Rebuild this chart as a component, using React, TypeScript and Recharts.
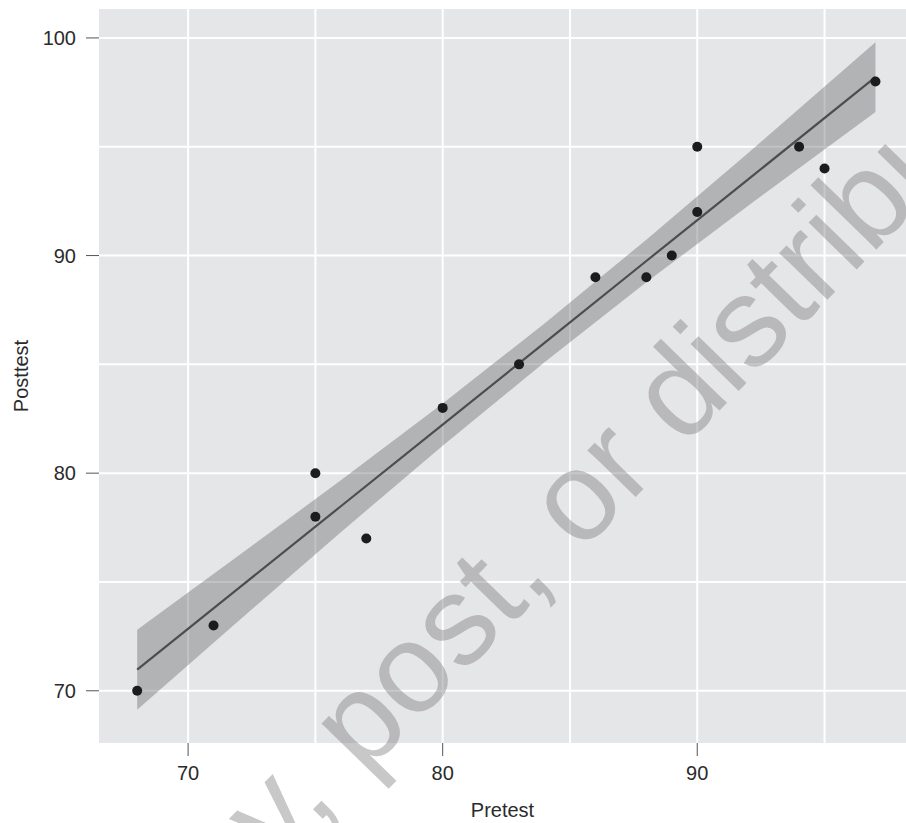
import {
  ComposedChart,
  Area,
  Line,
  Scatter,
  XAxis,
  YAxis,
  CartesianGrid,
} from 'recharts'

// observed scores
const pretest = [68, 71, 75, 75, 77, 80, 83, 86, 88, 89, 90, 90, 94, 95, 97]
const posttest = [70, 73, 80, 78, 77, 83, 85, 89, 89, 90, 95, 92, 95, 94, 98]

// fitted line + confidence band
const fitX = [68, 72, 76, 80, 84, 88, 92, 97]
const fitY = [70.97, 74.73, 78.48, 82.23, 85.99, 89.75, 93.5, 98.2]
const bandLow = [69.13, 73.23, 77.29, 81.26, 85.1, 88.77, 92.29, 96.6]
const bandHigh = [72.81, 76.23, 79.67, 83.2, 86.88, 90.73, 94.71, 99.8]

const xTicks = [70, 80, 90]
const yTicks = [70, 80, 90, 100]
const xGrid = [70, 75, 80, 85, 90, 95]
const yGrid = [70, 75, 80, 85, 90, 95, 100]

const points = pretest.map((x, i) => ({ x, y: posttest[i] }))
const fitData = fitX.map((x, i) => ({
  x,
  fit: fitY[i],
  band: [bandLow[i], bandHigh[i]],
}))

const FONT = '"Liberation Sans", Arial, Helvetica, sans-serif'
const tickStyle = { fontSize: 20, fill: '#2b2b2b', fontFamily: FONT }

function Dot(props: any) {
  return <circle cx={props.cx} cy={props.cy} r={5} fill="#1c1c1c" />
}

export default function App() {
  return (
    <div style={{ position: 'absolute', left: 0, top: 0, width: 906, height: 823, background: '#fff' }}>
      <ComposedChart
        width={906}
        height={823}
        data={fitData}
        margin={{ top: 9, right: 0, left: 0, bottom: 0 }}
      >
        <CartesianGrid
          fill="#E5E6E8"
          fillOpacity={1}
          stroke="#ffffff"
          strokeWidth={2}
          verticalValues={xGrid}
          horizontalValues={yGrid}
        />
        <XAxis
          dataKey="x"
          type="number"
          domain={[66.5, 98.2]}
          allowDataOverflow
          ticks={xTicks}
          tick={tickStyle}
          tickSize={13}
          tickMargin={10}
          tickLine={{ stroke: '#555' }}
          axisLine={false}
          height={80}
          label={{
            value: 'Pretest',
            position: 'insideBottom',
            offset: 6,
            style: { fontSize: 20, fill: '#2b2b2b', fontFamily: FONT },
          }}
        />
        <YAxis
          type="number"
          domain={[67.6, 101.33]}
          allowDataOverflow
          ticks={yTicks}
          tick={tickStyle}
          tickSize={13}
          tickMargin={10}
          tickLine={{ stroke: '#555' }}
          axisLine={false}
          width={99}
          label={{
            value: 'Posttest',
            angle: -90,
            position: 'insideLeft',
            offset: 21,
            style: { fontSize: 20, fill: '#2b2b2b', fontFamily: FONT, textAnchor: 'middle' },
          }}
        />
        <Area
          dataKey="band"
          type="linear"
          stroke="none"
          fill="#656668"
          fillOpacity={0.4}
          isAnimationActive={false}
        />
        <Line
          dataKey="fit"
          type="linear"
          stroke="#4d4d4d"
          strokeWidth={2.2}
          dot={false}
          isAnimationActive={false}
        />
        <Scatter data={points} dataKey="y" shape={Dot} isAnimationActive={false} />
      </ComposedChart>
      <svg
        width={906}
        height={823}
        style={{ position: 'absolute', left: 0, top: 0, pointerEvents: 'none' }}
      >
        <text
          x={370}
          y={770}
          transform="rotate(-45.8 370 770)"
          fontSize={127}
          fontFamily={FONT}
          fill="#7c7c7c"
          fillOpacity={0.42}
          textAnchor="start"
          dx={-748}
        >
          Do not copy, post, or distribute
        </text>
      </svg>
    </div>
  )
}
